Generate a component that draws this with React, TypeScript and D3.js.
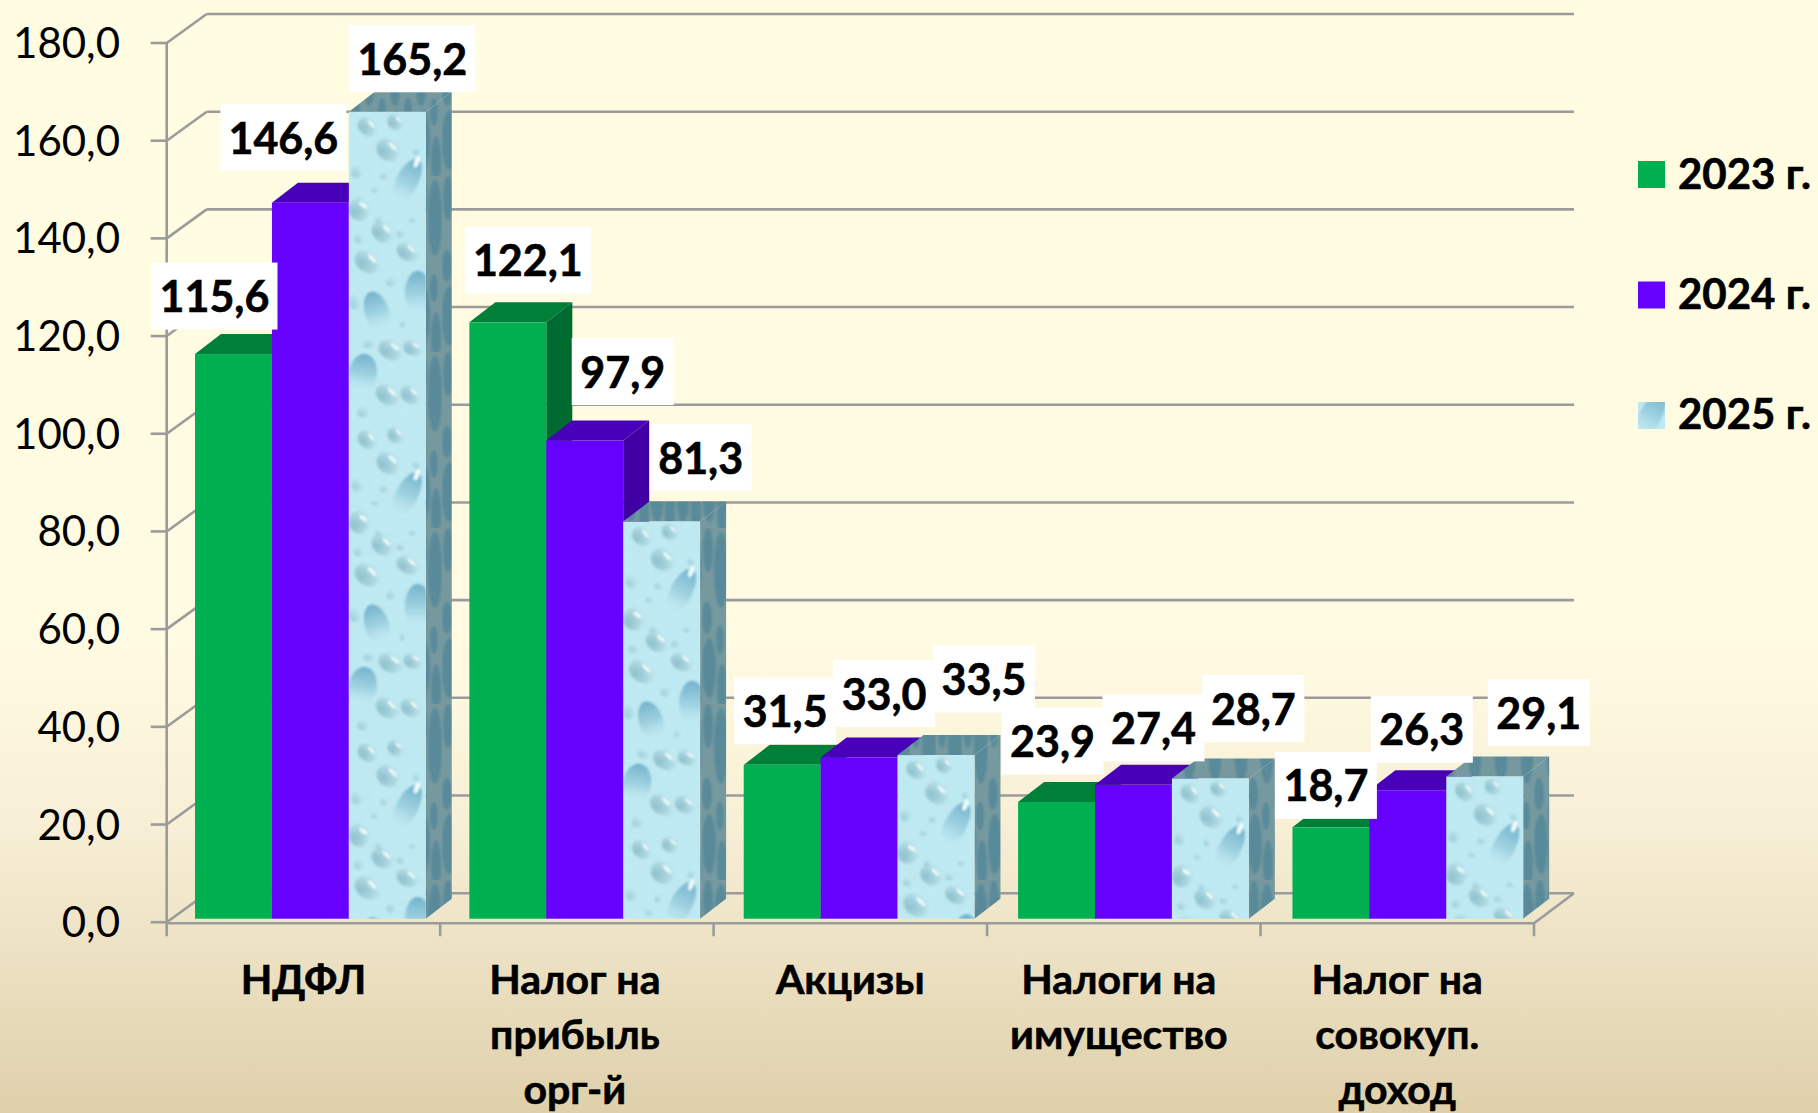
import React from 'react';
import * as d3 from 'd3';

const categories = ['НДФЛ', 'Налог на прибыль орг-й', 'Акцизы', 'Налоги на имущество', 'Налог на совокуп. доход'];
const categoryLines = [['НДФЛ'], ['Налог на', 'прибыль', 'орг-й'], ['Акцизы'], ['Налоги на', 'имущество'], ['Налог на', 'совокуп.', 'доход']];
const categoryShift = [0, -2, 0, -5, 0];
const seriesNames = ['2023 г.', '2024 г.', '2025 г.'];
const values2023 = [115.6, 122.1, 31.5, 23.9, 18.7];
const values2024 = [146.6, 97.9, 33.0, 27.4, 26.3];
const values2025 = [165.2, 81.3, 33.5, 28.7, 29.1];
const yTicks = [0, 20, 40, 60, 80, 100, 120, 140, 160, 180];

// hand placed labels: offset from the centre of the bar's top edge, per series
const nudge2023 = [[-19, -58], [20, -62], [3, -54], [-4, -61], [-5, -42]];
const nudge2024 = [[-27, -65], [38, -69], [25, -64], [20, -57], [14, -61]];
const nudge2025 = [[25, -53], [39, -64], [48, -76], [43, -70], [54, -64]];

// one tile of the water fill: x, y, rx, ry, rotation
const smallDrops = [
  [19, 15, 11, 9, 35], [47, 10, 9, 8, 30], [40, 38, 13, 11, 30], [8, 60, 6, 7, 0],
  [11, 97, 11, 12, 20], [34, 120, 12, 10, 30], [59, 140, 12, 9, 25], [10, 127, 5, 5, 0],
  [19, 150, 14, 11, 30], [52, 122, 5, 4, 0], [42, 170, 5, 5, 0], [6, 190, 6, 8, 0],
  [42, 238, 13, 10, 25], [64, 236, 10, 8, 20], [20, 232, 6, 5, 0], [39, 283, 13, 10, 30],
  [62, 283, 11, 9, 30], [14, 300, 6, 6, 0], [35, 64, 4, 4, 0], [68, 40, 4, 4, 0],
  [26, 78, 4, 3, 0], [64, 108, 4, 3, 0], [54, 212, 3, 4, 0], [30, 108, 4, 4, 0],
];
const bigDrops = [
  [58, 70, 11, 25, 27], [69, 182, 13, 23, 0], [28, 200, 12, 21, -18], [14, 262, 14, 20, 8],
];
const sideDrops = [
  [6, 22, 5, 22], [19, 42, 7, 38], [5, 90, 5, 16], [18, 112, 4, 14], [7, 140, 7, 30], [20, 160, 5, 24],
];

const fmt = (v: number) => v.toFixed(1).replace('.', ',');

const W = 1818;
const H = 1113;
const FONT = 'Lato, Carlito, "Noto Sans", sans-serif';
const GRID = '#9b9b9b';
const depth = { x: 26, y: 20 };
const wall = { x: 40, y: 29 };
const TILE = { w: 77, h: 313 };

const series = [
  { name: seriesNames[0], values: values2023, nudge: nudge2023, front: '#00b050', top: '#007f38', side: '#006b30' },
  { name: seriesNames[1], values: values2024, nudge: nudge2024, front: '#6600ff', top: '#4800b8', side: '#4000a4' },
  { name: seriesNames[2], values: values2025, nudge: nudge2025, front: 'water', top: 'url(#waterDark)', side: 'url(#waterDark)' },
];

const y = d3.scaleLinear().domain([0, 180]).range([922.2, 43]);
const axisX = d3.scaleBand<string>().domain(categories).range([166.7, 1534]);
const groupX = d3.scaleBand<string>().domain(categories).range([173.2, 1545]).paddingInner(0.159).paddingOuter(0.0795);
const barX = d3.scaleBand<string>().domain(seriesNames).range([0, groupX.bandwidth()]);
const FLOOR = 3.5;

function WaterDefs() {
  return (
    <defs>
      <linearGradient id="bg" x1="0" y1="0" x2="0" y2="1">
        <stop offset="0" stopColor="#fffce1" />
        <stop offset="0.58" stopColor="#fffbe2" />
        <stop offset="0.74" stopColor="#f7efd6" />
        <stop offset="1" stopColor="#dfd0ab" />
      </linearGradient>
      <radialGradient id="drop" cx="0.32" cy="0.72" r="0.85">
        <stop offset="0" stopColor="#8fc1cd" />
        <stop offset="0.6" stopColor="#aed9e2" />
        <stop offset="1" stopColor="#c8eef4" stopOpacity="0.4" />
      </radialGradient>
      <linearGradient id="bigDrop" x1="0" y1="0" x2="0" y2="1">
        <stop offset="0" stopColor="#74b3cd" />
        <stop offset="0.55" stopColor="#a3d5e3" />
        <stop offset="1" stopColor="#c6eef5" stopOpacity="0.2" />
      </linearGradient>
      <filter id="blur" x="-20%" y="-20%" width="140%" height="140%">
        <feGaussianBlur stdDeviation="1" />
      </filter>
      <filter id="mottle" x="0" y="0" width="100%" height="100%">
        <feTurbulence type="fractalNoise" baseFrequency="0.13" numOctaves="2" seed="4" />
        <feColorMatrix values="0 0 0 0 0.55  0 0 0 0 0.78  0 0 0 0 0.83  1.8 0 0 0 -0.7" />
      </filter>
      <g id="waterTile">
        <rect width={TILE.w} height={TILE.h} fill="#bdeaf3" />
        <rect width={TILE.w} height={TILE.h} filter="url(#mottle)" opacity={0.7} />
        <g filter="url(#blur)">
          {smallDrops.map((d, i) => (
            <ellipse key={i} cx={d[0]} cy={d[1]} rx={d[2]} ry={d[3]} fill="url(#drop)" opacity={d[2] < 7 ? 0.6 : 1}
              transform={`rotate(${d[4]} ${d[0]} ${d[1]})`} />
          ))}
          {bigDrops.map((d, i) => (
            <ellipse key={i} cx={d[0]} cy={d[1]} rx={d[2]} ry={d[3]} fill="url(#bigDrop)"
              transform={`rotate(${d[4]} ${d[0]} ${d[1]})`} />
          ))}
          {smallDrops.filter((d) => d[2] >= 9).map((d, i) => (
            <ellipse key={i} cx={d[0] + d[2] * 0.3} cy={d[1] - d[3] * 0.3} rx={d[2] * 0.42} ry={d[3] * 0.16} fill="#eefbfc"
              transform={`rotate(${d[4] + 15} ${d[0] + d[2] * 0.3} ${d[1] - d[3] * 0.3})`} />
          ))}
          <ellipse cx={68} cy={50} rx={2.5} ry={6} fill="#f2fcfd" transform="rotate(20 68 50)" />
        </g>
      </g>
      <pattern id="waterDark" patternUnits="userSpaceOnUse" width="26" height="176">
        <rect width="26" height="176" fill="#76999f" />
        <g filter="url(#blur)">
          {sideDrops.map((d, i) => (
            <ellipse key={i} cx={d[0]} cy={d[1]} rx={d[2]} ry={d[3]} fill="#4f8598" opacity={0.75} />
          ))}
        </g>
      </pattern>
      <pattern id="waterLegend" patternUnits="userSpaceOnUse" x={1593} y={345} width={TILE.w} height={TILE.h}>
        <use href="#waterTile" />
      </pattern>
    </defs>
  );
}

export default function App() {
  const floorY = y(0);
  const right = axisX.range()[1];
  return (
    <svg width={W} height={H} style={{ position: 'absolute', left: 0, top: 0 }} fontFamily={FONT}>
      <WaterDefs />
      <rect width={W} height={H} fill="url(#bg)" />

      {/* back wall and its slanted links to the axis */}
      <g stroke={GRID} strokeWidth={2.6} fill="none">
        {yTicks.map((t) => (
          <g key={t}>
            <line x1={166.7 - 16} x2={166.7} y1={y(t)} y2={y(t)} />
            <line x1={166.7} x2={166.7 + wall.x} y1={y(t)} y2={y(t) - wall.y} />
            <line x1={166.7 + wall.x} x2={right + wall.x} y1={y(t) - wall.y} y2={y(t) - wall.y} />
          </g>
        ))}
        <line x1={right} x2={right + wall.x} y1={floorY + 1} y2={floorY - wall.y} />
        <line x1={166.7} x2={166.7} y1={y(180)} y2={floorY + 14} />
        <line x1={166.7} x2={right} y1={floorY + 1} y2={floorY + 1} />
        {categories.map((c) => (
          <line key={c} x1={(axisX(c) as number) + axisX.bandwidth()} x2={(axisX(c) as number) + axisX.bandwidth()} y1={floorY} y2={floorY + 14} />
        ))}
      </g>

      {/* bars */}
      {categories.map((c, ci) => (
        <g key={c}>
          {series.map((s) => {
            const x0 = (groupX(c) as number) + (barX(s.name) as number);
            const w = barX.bandwidth();
            const yTop = y(s.values[ci]) - FLOOR;
            const yBot = y(0) - FLOOR;
            const side = d3.path();
            side.moveTo(x0 + w, yTop);
            side.lineTo(x0 + w + depth.x, yTop - depth.y);
            side.lineTo(x0 + w + depth.x, yBot - depth.y);
            side.lineTo(x0 + w, yBot);
            side.closePath();
            const top = d3.path();
            top.moveTo(x0, yTop);
            top.lineTo(x0 + depth.x, yTop - depth.y);
            top.lineTo(x0 + w + depth.x, yTop - depth.y);
            top.lineTo(x0 + w, yTop);
            top.closePath();
            const isWater = s.front === 'water';
            return (
              <g key={s.name}>
                {isWater && (
                  <pattern id={`water-${ci}`} patternUnits="userSpaceOnUse" x={x0} y={yTop} width={TILE.w} height={TILE.h}>
                    <use href="#waterTile" />
                  </pattern>
                )}
                <path d={side.toString()} fill={s.side} />
                <path d={top.toString()} fill={s.top} />
                <rect x={x0} y={yTop} width={w} height={yBot - yTop} fill={isWater ? `url(#water-${ci})` : s.front} />
              </g>
            );
          })}
        </g>
      ))}

      {/* data labels on white boxes */}
      {categories.map((c, ci) =>
        series.map((s) => {
          const v = s.values[ci];
          const cx = (groupX(c) as number) + (barX(s.name) as number) + barX.bandwidth() / 2 + s.nudge[ci][0];
          const cy = y(v) - FLOOR + s.nudge[ci][1];
          const bw = v >= 100 ? 126 : 102;
          return (
            <g key={c + s.name}>
              <rect x={cx - bw / 2} y={cy - 33.5} width={bw} height={67} fill="#fff" />
              <text x={cx} y={cy + 16} textAnchor="middle" fontSize={43} fontWeight={700} fill="#000" stroke="#000" strokeWidth={0.6}>{fmt(v)}</text>
            </g>
          );
        })
      )}

      {/* y axis labels */}
      {yTicks.map((t) => (
        <text key={t} x={120} y={y(t) + 15} textAnchor="end" fontSize={42} fill="#000">{fmt(t)}</text>
      ))}

      {/* category labels */}
      {categories.map((c, ci) => (
        <text key={c} textAnchor="middle" fontSize={41} fontWeight={700} fill="#000" stroke="#000" strokeWidth={0.6}>
          {categoryLines[ci].map((line, li) => (
            <tspan key={li} x={(axisX(c) as number) + axisX.bandwidth() / 2 + categoryShift[ci]} y={994 + li * 54.8}>{line}</tspan>
          ))}
        </text>
      ))}

      {/* legend */}
      {series.map((s, i) => (
        <g key={s.name}>
          <rect x={1638} y={161 + i * 120.5} width={27} height={27} fill={s.front === 'water' ? 'url(#waterLegend)' : s.front} />
          <text x={1678} y={189 + i * 120} fontSize={42} fontWeight={700} fill="#000" stroke="#000" strokeWidth={0.6}>{s.name}</text>
        </g>
      ))}
    </svg>
  );
}
